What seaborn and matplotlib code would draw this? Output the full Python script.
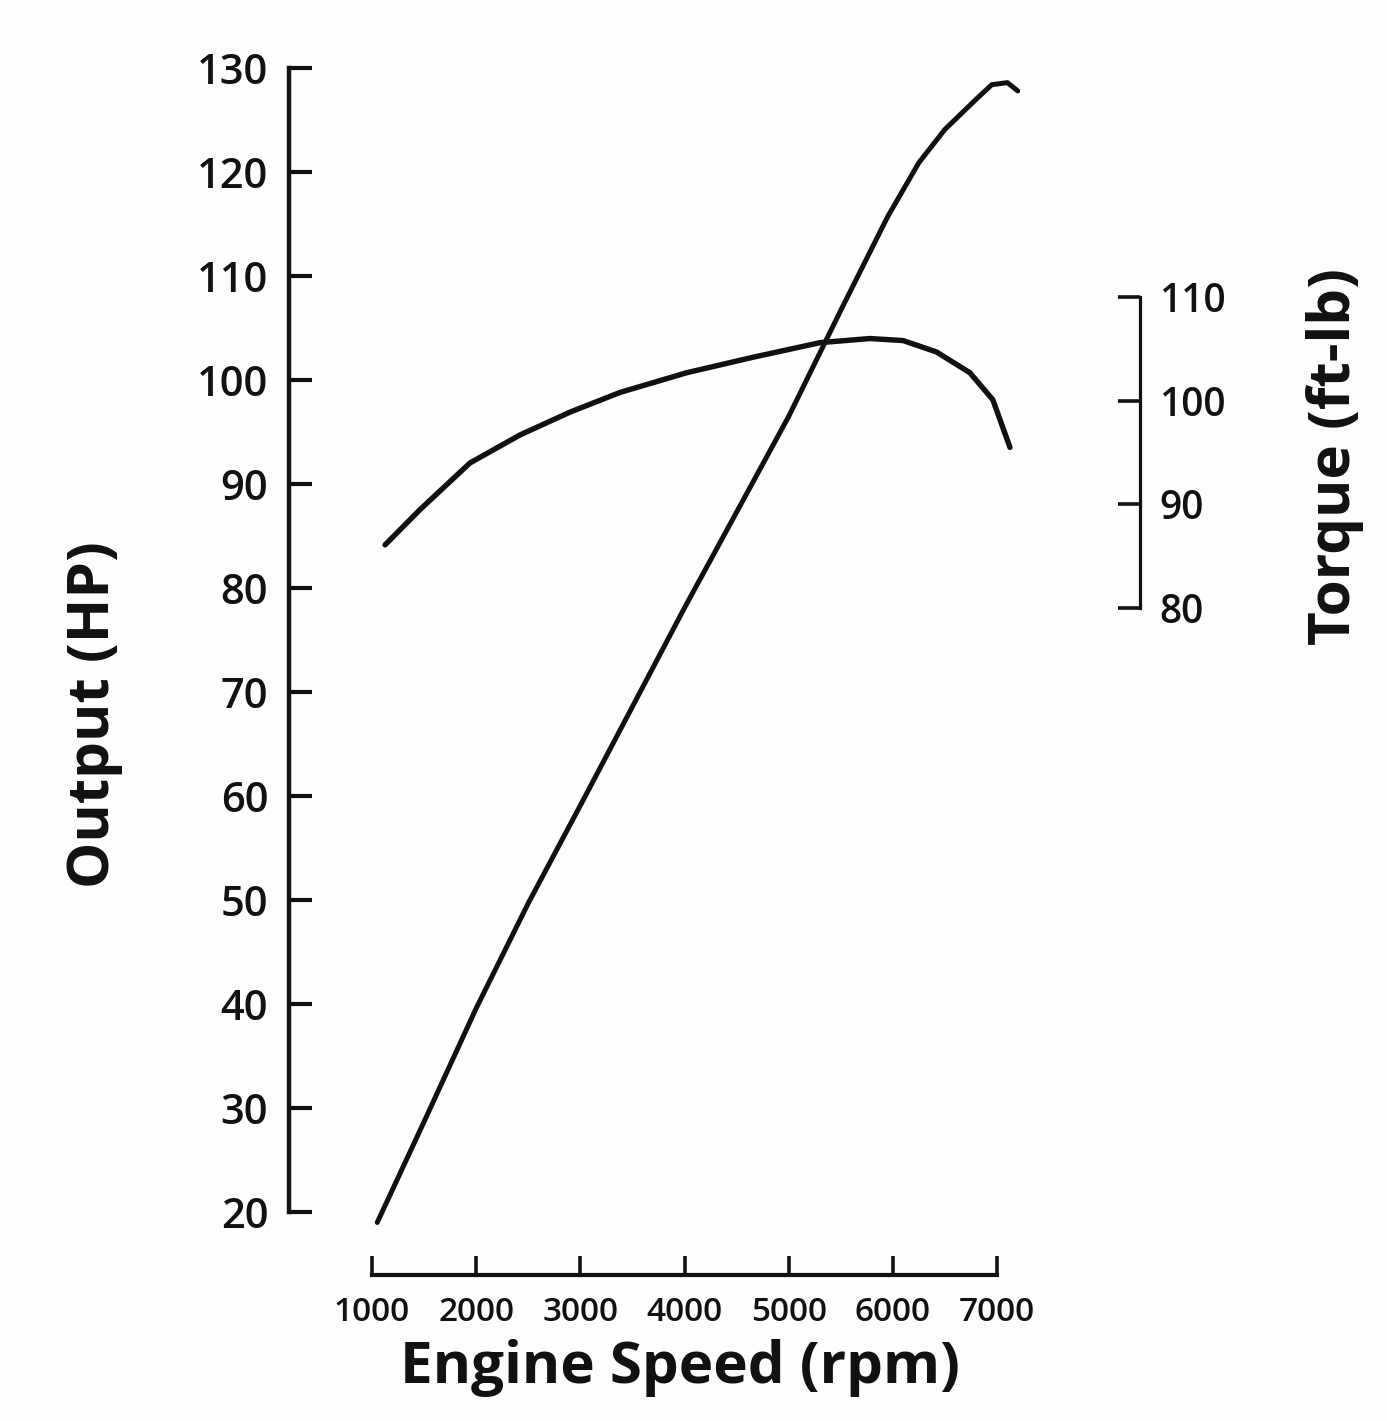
import matplotlib
matplotlib.use("Agg")
import matplotlib.pyplot as plt
import seaborn as sns
import pandas as pd

# ---- data ----
rpm_hp = [1050, 1500, 2000, 2500, 3000, 3500, 4000, 4500, 5000, 5500, 5950, 6250, 6500, 6800, 6950, 7100, 7200]
hp = [19.0, 28.7, 39.6, 49.7, 59.1, 68.6, 78.1, 87.3, 96.5, 106.7, 115.7, 120.9, 124.1, 127.0, 128.4, 128.6, 127.8]

rpm_tq = [1125, 1460, 1940, 2420, 2900, 3380, 4020, 4660, 5300, 5780, 6100, 6420, 6740, 6960, 7125]
torque = [86.1, 89.5, 94.0, 96.7, 98.9, 100.8, 102.7, 104.2, 105.6, 106.0, 105.8, 104.7, 102.7, 100.1, 95.5]

x_ticks = [1000, 2000, 3000, 4000, 5000, 6000, 7000]
hp_ticks = [20, 30, 40, 50, 60, 70, 80, 90, 100, 110, 120, 130]
tq_ticks = [80, 90, 100, 110]

df_hp = pd.DataFrame({"rpm": rpm_hp, "hp": hp})
df_tq = pd.DataFrame({"rpm": rpm_tq, "torque": torque})

sns.set_theme(style="white")
plt.rcParams['font.family'] = ['Open Sans', 'DejaVu Sans']

ink = "#111111"
fig = plt.figure(figsize=(13.87, 14.21), dpi=100)
fig.patch.set_facecolor("#fdfdfd")
ax = fig.add_axes([0.2084, 0.1027, 0.6135, 0.8494])
ax.set_facecolor("none")

sns.lineplot(data=df_hp, x="rpm", y="hp", ax=ax, color=ink, linewidth=3.6)
ax2 = ax.twinx()
sns.lineplot(data=df_tq, x="rpm", y="torque", ax=ax2, color=ink, linewidth=3.9)
for ln in ax.get_lines() + ax2.get_lines():
    ln.set_solid_joinstyle("round")
    ln.set_solid_capstyle("round")

ax.set_xlim(203, 8373)
ax.set_ylim(13.94, 130)
ax2.set_ylim(15.69, 132.08)

# spines
for s in ["top", "right"]:
    ax.spines[s].set_visible(False)
for s in ["top", "left", "bottom"]:
    ax2.spines[s].set_visible(False)
ax.spines["left"].set_bounds(20, 130)
ax.spines["bottom"].set_bounds(1000, 7000)
ax2.spines["right"].set_bounds(80, 110)
ax.spines["left"].set_linewidth(3.2)
ax.spines["bottom"].set_linewidth(3.0)
ax2.spines["right"].set_linewidth(2.3)
for sp in [ax.spines["left"], ax.spines["bottom"], ax2.spines["right"]]:
    sp.set_color(ink)

# ticks
ax.set_xticks(x_ticks)
ax.set_xticklabels([str(t) for t in x_ticks])
ax.set_yticks(hp_ticks)
ax.set_yticklabels([str(t) for t in hp_ticks])
ax2.set_yticks(tq_ticks)
ax2.set_yticklabels([str(t) for t in tq_ticks])

ax.tick_params(axis="y", left=True, direction="in", length=16.5, width=3.0,
               pad=15, labelsize=30, color=ink, labelcolor=ink)
ax.tick_params(axis="x", bottom=True, direction="in", length=14, width=2.6,
               pad=15, labelsize=24, color=ink, labelcolor=ink)
ax2.tick_params(axis="y", right=True, direction="in", length=16, width=2.6,
                pad=14, labelsize=28, color=ink, labelcolor=ink)
for lab in ax.get_xticklabels() + ax.get_yticklabels() + ax2.get_yticklabels():
    lab.set_fontweight("semibold")

# axis labels
ax.set_xlabel("Engine Speed (rpm)", fontsize=42, fontweight="bold", color=ink)
ax.xaxis.label.set_va("center")
ax.xaxis.set_label_coords(0.4595, -0.077)

ax.set_ylabel("Output (HP)", fontsize=42, fontweight="bold", color=ink)
ax.yaxis.label.set_va("center")
ax.yaxis.set_label_coords(-0.229, 0.464)

ax2.set_ylabel("Torque (ft-lb)", fontsize=42, fontweight="bold", color=ink)
ax2.yaxis.label.set_va("center")
ax2.yaxis.set_label_coords(1.229, 0.6785)

ax.grid(False)
ax2.grid(False)

fig.savefig("out.png", dpi=100, facecolor=fig.get_facecolor())
